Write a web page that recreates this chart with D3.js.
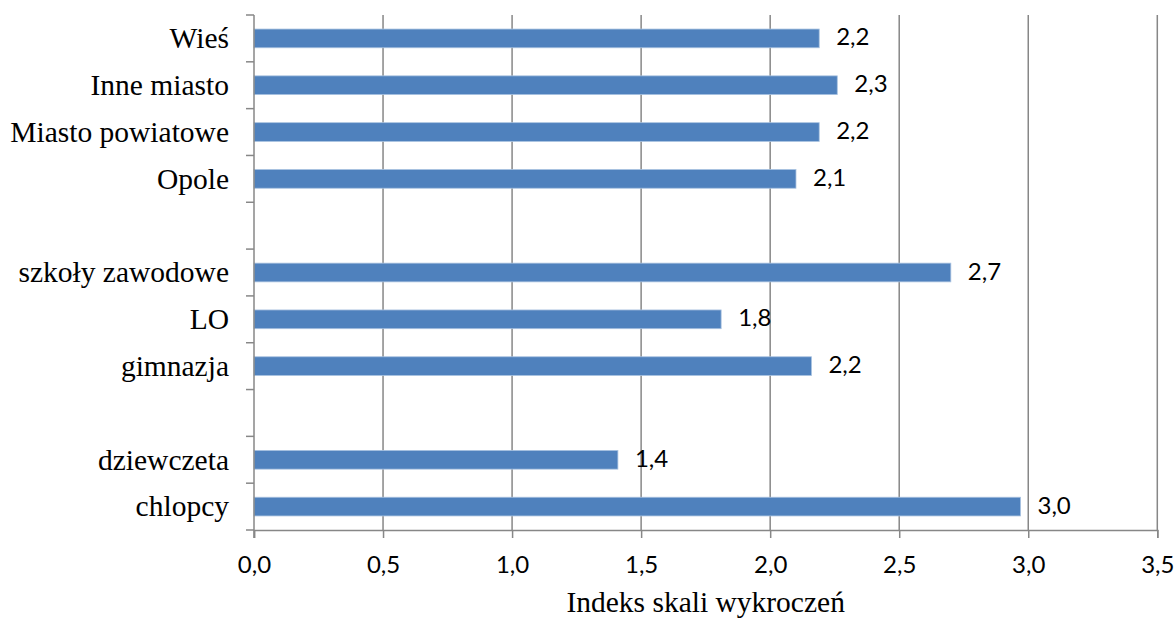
<!DOCTYPE html>
<html><head><meta charset="utf-8">
<script src="https://cdn.jsdelivr.net/npm/d3@7"></script>
<style>body{margin:0;background:#fff}svg{display:block}</style>
</head><body>
<svg id="c" width="1176" height="620"></svg>
<script>
const categories = ["Wieś","Inne miasto","Miasto powiatowe","Opole","","szkoły zawodowe","LO","gimnazja","","dziewczeta","chlopcy"];
const values = [2.19, 2.26, 2.19, 2.10, null, 2.70, 1.81, 2.16, null, 1.41, 2.97];
const xTicks = [0,0.5,1,1.5,2,2.5,3,3.5];
const axisTitle = "Indeks skali wykroczeń";

const svg = d3.select("#c");
const L=254, R=1157.3, T=15, B=530;
const x = d3.scaleLinear().domain([0,3.5]).range([L,R]);
const y = d3.scaleBand().domain(d3.range(categories.length)).range([T,B]).paddingInner(0.6).paddingOuter(0.3);
const grid="#878787";
const numFont="Lato, 'Open Sans', sans-serif";
const serif="'Liberation Serif', 'Times New Roman', serif";

// gridlines
svg.append("g").selectAll("line").data(xTicks.filter(d=>d>0)).join("line")
  .attr("x1",d=>x(d)).attr("x2",d=>x(d)).attr("y1",T).attr("y2",B)
  .attr("stroke",grid).attr("stroke-width",1.5);

// bars
const data = categories.map((c,i)=>({c,i,v:values[i]})).filter(d=>d.v!=null);
svg.append("g").selectAll("rect").data(data).join("rect")
  .attr("x",x(0)).attr("y",d=>y(d.i)).attr("width",d=>x(d.v)-x(0)).attr("height",y.bandwidth())
  .attr("fill","#4F81BD").attr("stroke","#A9C2E0").attr("stroke-width",0.8);

// value labels
svg.append("g").selectAll("text").data(data).join("text")
  .attr("x",d=>x(d.v)+17).attr("y",d=>y(d.i)+y.bandwidth()/2+1)
  .attr("dominant-baseline","middle")
  .attr("font-family",numFont).attr("font-size",24).attr("fill","#000")
  .text(d=>d3.format(".1f")(d.v).replace(".",","));

// x axis
const xa = svg.append("g").attr("transform",`translate(0,${B})`)
  .call(d3.axisBottom(x).tickValues(xTicks).tickSize(8).tickPadding(18).tickFormat(d=>d3.format(".1f")(d).replace(".",",")));
xa.select(".domain").attr("stroke",grid).attr("stroke-width",1.5);
xa.selectAll(".tick line").attr("stroke",grid).attr("stroke-width",1.5);
xa.selectAll("text").attr("font-family",numFont).attr("font-size",24).attr("fill","#000");

// y axis
svg.append("line").attr("x1",L).attr("x2",L).attr("y1",T).attr("y2",B+8).attr("stroke",grid).attr("stroke-width",1.5);
const bounds = d3.range(categories.length+1).map(i=> i<categories.length ? y(i)-y.step()*y.paddingInner()/2 : B);
svg.append("g").selectAll("line").data(bounds).join("line")
  .attr("x1",L-8).attr("x2",L).attr("y1",d=>d).attr("y2",d=>d).attr("stroke",grid).attr("stroke-width",1.5);
svg.append("g").selectAll("text").data(categories.map((c,i)=>({c,i}))).join("text")
  .attr("x",229).attr("y",d=>y(d.i)+y.bandwidth()/2).attr("dy","0.33em")
  .attr("text-anchor","end").attr("font-family",serif).attr("font-size",29.5)
  .text(d=>d.c);

svg.append("text").attr("x",(L+R)/2).attr("y",612).attr("text-anchor","middle")
  .attr("font-family",serif).attr("font-size",29.5).text(axisTitle);
</script>
</body></html>
